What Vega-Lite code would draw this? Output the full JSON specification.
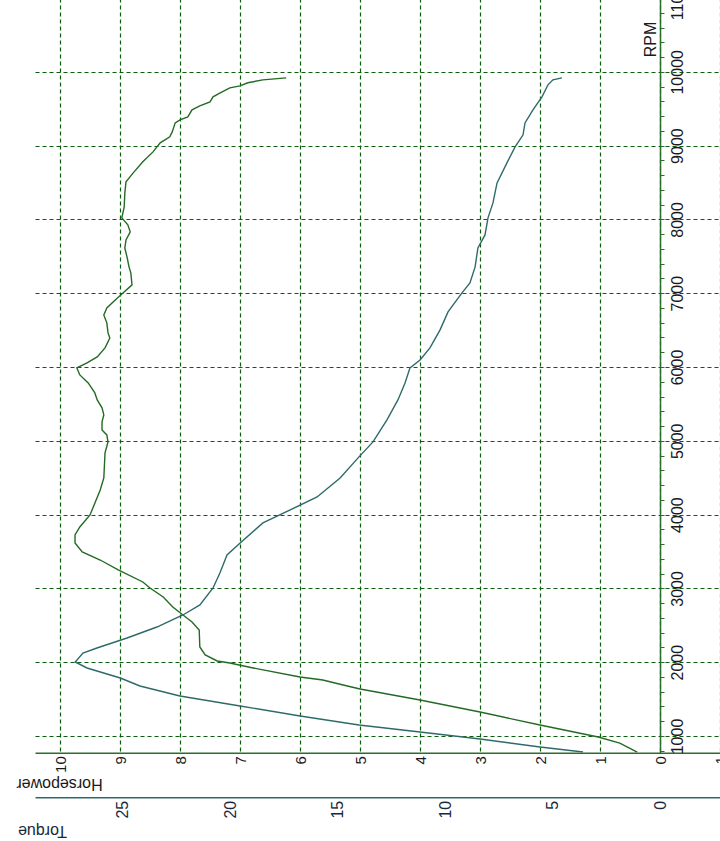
{
  "$schema": "https://vega.github.io/schema/vega-lite/v6.json",
  "width": 685,
  "height": 754.7,
  "autosize": {"type": "none"},
  "padding": {"left": 35, "top": -2, "right": 0, "bottom": 88.3},
  "background": "white",
  "config": {"view": {"stroke": null}, "font": "Liberation Sans"},
  "datasets": {
    "hp": [
      {"rpm": 783, "hp": 0.38}, {"rpm": 905, "hp": 0.67}, {"rpm": 986, "hp": 1.03}, {"rpm": 1149, "hp": 2.0},
      {"rpm": 1325, "hp": 3.0}, {"rpm": 1488, "hp": 4.0}, {"rpm": 1637, "hp": 5.0}, {"rpm": 1691, "hp": 5.28},
      {"rpm": 1759, "hp": 5.62}, {"rpm": 1800, "hp": 6.0}, {"rpm": 1922, "hp": 6.78}, {"rpm": 1989, "hp": 7.17},
      {"rpm": 2017, "hp": 7.38}, {"rpm": 2098, "hp": 7.58}, {"rpm": 2206, "hp": 7.67}, {"rpm": 2437, "hp": 7.68},
      {"rpm": 2545, "hp": 7.8}, {"rpm": 2640, "hp": 7.95}, {"rpm": 2748, "hp": 8.12}, {"rpm": 2884, "hp": 8.28},
      {"rpm": 3006, "hp": 8.5}, {"rpm": 3087, "hp": 8.62}, {"rpm": 3250, "hp": 9.03}, {"rpm": 3385, "hp": 9.33},
      {"rpm": 3494, "hp": 9.63}, {"rpm": 3616, "hp": 9.75}, {"rpm": 3724, "hp": 9.75}, {"rpm": 3833, "hp": 9.67},
      {"rpm": 3995, "hp": 9.5}, {"rpm": 4334, "hp": 9.33}, {"rpm": 4497, "hp": 9.27}, {"rpm": 4836, "hp": 9.25},
      {"rpm": 4985, "hp": 9.2}, {"rpm": 5080, "hp": 9.22}, {"rpm": 5147, "hp": 9.3}, {"rpm": 5256, "hp": 9.3},
      {"rpm": 5351, "hp": 9.27}, {"rpm": 5446, "hp": 9.3}, {"rpm": 5554, "hp": 9.38}, {"rpm": 5649, "hp": 9.42},
      {"rpm": 5785, "hp": 9.53}, {"rpm": 5893, "hp": 9.67}, {"rpm": 5988, "hp": 9.72}, {"rpm": 6056, "hp": 9.55},
      {"rpm": 6137, "hp": 9.38}, {"rpm": 6259, "hp": 9.25}, {"rpm": 6394, "hp": 9.17}, {"rpm": 6462, "hp": 9.2},
      {"rpm": 6598, "hp": 9.22}, {"rpm": 6706, "hp": 9.27}, {"rpm": 6801, "hp": 9.22}, {"rpm": 6909, "hp": 9.08},
      {"rpm": 7004, "hp": 8.95}, {"rpm": 7113, "hp": 8.8}, {"rpm": 7275, "hp": 8.82}, {"rpm": 7357, "hp": 8.85},
      {"rpm": 7479, "hp": 8.88}, {"rpm": 7614, "hp": 8.92}, {"rpm": 7723, "hp": 8.9}, {"rpm": 7831, "hp": 8.83},
      {"rpm": 7926, "hp": 8.87}, {"rpm": 8021, "hp": 8.97}, {"rpm": 8170, "hp": 8.93}, {"rpm": 8360, "hp": 8.92},
      {"rpm": 8509, "hp": 8.9}, {"rpm": 8631, "hp": 8.78}, {"rpm": 8780, "hp": 8.62}, {"rpm": 8915, "hp": 8.45},
      {"rpm": 9037, "hp": 8.33}, {"rpm": 9119, "hp": 8.17}, {"rpm": 9186, "hp": 8.13}, {"rpm": 9308, "hp": 8.08},
      {"rpm": 9349, "hp": 8.0}, {"rpm": 9390, "hp": 7.87}, {"rpm": 9485, "hp": 7.8}, {"rpm": 9539, "hp": 7.67},
      {"rpm": 9593, "hp": 7.5}, {"rpm": 9661, "hp": 7.45}, {"rpm": 9715, "hp": 7.33}, {"rpm": 9783, "hp": 7.17},
      {"rpm": 9810, "hp": 7.0}, {"rpm": 9851, "hp": 6.87}, {"rpm": 9891, "hp": 6.62}, {"rpm": 9918, "hp": 6.23}
    ],
    "tq": [
      {"rpm": 783, "torque": 3.58}, {"rpm": 851, "torque": 5.58}, {"rpm": 959, "torque": 8.37}, {"rpm": 1054, "torque": 11.16},
      {"rpm": 1149, "torque": 14.0}, {"rpm": 1271, "torque": 16.74}, {"rpm": 1407, "torque": 19.53}, {"rpm": 1542, "torque": 22.33},
      {"rpm": 1678, "torque": 24.19}, {"rpm": 1786, "torque": 25.1}, {"rpm": 1922, "torque": 26.65}, {"rpm": 2003, "torque": 27.2},
      {"rpm": 2125, "torque": 26.84}, {"rpm": 2193, "torque": 26.19}, {"rpm": 2328, "torque": 24.79}, {"rpm": 2477, "torque": 23.4},
      {"rpm": 2640, "torque": 22.19}, {"rpm": 2776, "torque": 21.4}, {"rpm": 3006, "torque": 20.79}, {"rpm": 3209, "torque": 20.47},
      {"rpm": 3453, "torque": 20.14}, {"rpm": 3616, "torque": 19.53}, {"rpm": 3887, "torque": 18.47}, {"rpm": 4063, "torque": 17.2},
      {"rpm": 4239, "torque": 15.95}, {"rpm": 4497, "torque": 14.88}, {"rpm": 4782, "torque": 14.0}, {"rpm": 4985, "torque": 13.35},
      {"rpm": 5283, "torque": 12.7}, {"rpm": 5554, "torque": 12.19}, {"rpm": 5784, "torque": 11.86}, {"rpm": 5988, "torque": 11.63},
      {"rpm": 6096, "torque": 11.16}, {"rpm": 6259, "torque": 10.7}, {"rpm": 6503, "torque": 10.23}, {"rpm": 6747, "torque": 9.86},
      {"rpm": 7004, "torque": 9.21}, {"rpm": 7140, "torque": 8.84}, {"rpm": 7357, "torque": 8.6}, {"rpm": 7614, "torque": 8.47},
      {"rpm": 7790, "torque": 8.14}, {"rpm": 8021, "torque": 8.0}, {"rpm": 8224, "torque": 7.77}, {"rpm": 8495, "torque": 7.58},
      {"rpm": 8766, "torque": 7.12}, {"rpm": 8983, "torque": 6.74}, {"rpm": 9146, "torque": 6.37}, {"rpm": 9308, "torque": 6.28},
      {"rpm": 9485, "torque": 5.91}, {"rpm": 9661, "torque": 5.49}, {"rpm": 9824, "torque": 5.21}, {"rpm": 9891, "torque": 4.98},
      {"rpm": 9918, "torque": 4.56}
    ]
  },
  "layer": [
    {
      "data": {"name": "hp"},
      "mark": {"type": "line", "color": "#246a24", "strokeWidth": 1.4, "clip": true},
      "encoding": {
        "x": {
          "field": "hp", "type": "quantitative",
          "scale": {"domain": [-1, 10.417], "reverse": true, "nice": false, "zero": false},
          "axis": {
            "orient": "bottom",
            "values": [-1, 0, 1, 2, 3, 4, 5, 6, 7, 8, 9, 10],
            "format": "d",
            "grid": true, "gridColor": "#0b5e0b", "gridDash": [4, 3], "gridWidth": 1.2,
            "domainColor": "#2b6e2b", "domainWidth": 1.5,
            "ticks": false,
            "labelAngle": -90, "labelAlign": "right", "labelBaseline": "middle",
            "labelPadding": 3, "labelFontSize": 15, "labelColor": "#1a1a1a",
            "labelFlush": false, "labelOverlap": false, "labelBound": false,
            "title": "Horsepower", "titleAngle": 180, "titleX": 24, "titleY": 31,
            "titleAlign": "center", "titleBaseline": "middle",
            "titleFontSize": 16, "titleFontWeight": "normal", "titleColor": "#1a1a1a"
          }
        },
        "y": {
          "field": "rpm", "type": "quantitative",
          "scale": {"domain": [774, 11000], "nice": false, "zero": false},
          "axis": {
            "orient": "right", "offset": -60,
            "values": [1000, 2000, 3000, 4000, 5000, 6000, 7000, 8000, 9000, 10000, 11000],
            "format": "d",
            "grid": true, "gridColor": "#0b5e0b", "gridDash": [4, 3], "gridWidth": 1.2,
            "domainColor": "#2b6e2b", "domainWidth": 1.5,
            "ticks": true, "tickSize": 4, "tickColor": "#2b6e2b",
            "labelAngle": -90, "labelAlign": "center", "labelBaseline": "top",
            "labelPadding": 5, "labelFontSize": 16, "labelColor": "#1a1a1a",
            "labelFlush": false, "labelOverlap": false, "labelBound": false,
            "title": "RPM", "titleAngle": -90, "titleX": -10, "titleY": 41,
            "titleAlign": "center", "titleBaseline": "middle",
            "titleFontSize": 16, "titleFontWeight": "normal", "titleColor": "#1a1a1a"
          }
        },
        "order": {"field": "rpm", "type": "quantitative"}
      }
    },
    {
      "data": {"name": "tq"},
      "mark": {"type": "line", "color": "#2f6a6a", "strokeWidth": 1.4, "clip": true},
      "encoding": {
        "x": {
          "field": "torque", "type": "quantitative",
          "scale": {"domain": [-2.79, 29.07], "reverse": true, "nice": false, "zero": false},
          "axis": {
            "orient": "bottom", "offset": 44.6,
            "values": [0, 5, 10, 15, 20, 25],
            "format": "d",
            "grid": false,
            "domainColor": "#2f6a6a", "domainWidth": 1.5,
            "ticks": false,
            "labelAngle": -90, "labelAlign": "right", "labelBaseline": "middle",
            "labelPadding": 3, "labelFontSize": 16, "labelColor": "#1a2a3a",
            "labelFlush": false, "labelOverlap": false,
            "title": "Torque", "titleAngle": 180, "titleX": 7, "titleY": 33,
            "titleAlign": "center", "titleBaseline": "middle",
            "titleFontSize": 16, "titleFontWeight": "normal", "titleColor": "#1a2a3a"
          }
        },
        "y": {
          "field": "rpm", "type": "quantitative",
          "axis": {
            "orient": "right", "offset": -60,
            "values": [800, 1200, 1400, 1600, 1800, 2200, 2400, 2600, 2800, 3200, 3400, 3600, 3800, 4200, 4400, 4600, 4800, 5200, 5400, 5600, 5800, 6200, 6400, 6600, 6800, 7200, 7400, 7600, 7800, 8200, 8400, 8600, 8800, 9200, 9400, 9600, 9800, 10200, 10400, 10600, 10800],
            "grid": false, "domain": false, "labels": false,
            "ticks": true, "tickSize": 4, "tickColor": "#2b6e2b",
            "title": null
          }
        },
        "order": {"field": "rpm", "type": "quantitative"}
      }
    }
  ],
  "resolve": {"scale": {"x": "independent"}, "axis": {"x": "independent", "y": "independent"}}
}
